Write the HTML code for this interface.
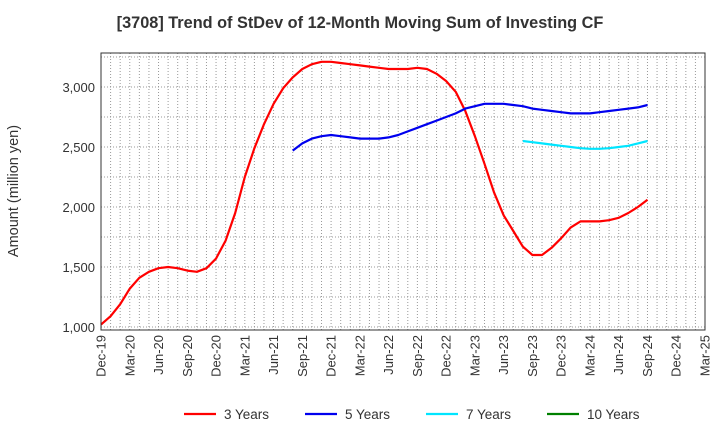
<!DOCTYPE html>
<html><head><meta charset="utf-8"><style>
body{margin:0;background:#fff;font-family:"Liberation Sans",sans-serif}
</style></head><body>
<svg id="c" width="720" height="440" xmlns="http://www.w3.org/2000/svg">
<text x="360" y="28" text-anchor="middle" font-size="16.3" font-weight="bold" fill="#333">[3708]  Trend of StDev of 12-Month Moving Sum of Investing CF</text>
<text transform="translate(18,191) rotate(-90)" text-anchor="middle" font-size="14.5" fill="#333">Amount (million yen)</text>
<g id="grid"></g><g id="series"></g><g id="axes"></g><g id="legend"></g>
</svg>
<script>
const xLabels=["Dec-19","Mar-20","Jun-20","Sep-20","Dec-20","Mar-21","Jun-21","Sep-21","Dec-21","Mar-22","Jun-22","Sep-22","Dec-22","Mar-23","Jun-23","Sep-23","Dec-23","Mar-24","Jun-24","Sep-24","Dec-24","Mar-25"];
const yTicks=[1000,1500,2000,2500,3000];
const s3=[1020,1090,1190,1320,1410,1460,1490,1500,1490,1470,1460,1490,1570,1720,1950,2250,2490,2690,2860,2990,3080,3150,3190,3210,3210,3200,3190,3180,3170,3160,3150,3150,3150,3160,3150,3110,3050,2960,2800,2590,2360,2120,1930,1800,1670,1600,1600,1660,1740,1830,1880,1880,1880,1890,1910,1950,2000,2060];
const s3Start=0;
const s5=[2470,2530,2570,2590,2600,2590,2580,2570,2570,2570,2580,2600,2630,2660,2690,2720,2750,2780,2820,2840,2860,2860,2860,2850,2840,2820,2810,2800,2790,2780,2780,2780,2790,2800,2810,2820,2830,2850];
const s5Start=20;
const s7=[2550,2540,2530,2520,2510,2500,2490,2485,2485,2490,2500,2510,2530,2550];
const s7Start=44;
const s10=[];
const L=101,R=705,T=53,B=330,months=63;
const X=m=>L+(R-L)*m/months;
const Y=v=>327-(v-1000)*0.12;
const NS="http://www.w3.org/2000/svg";
function mk(tag,attrs,parent){const e=document.createElementNS(NS,tag);for(const k in attrs)e.setAttribute(k,attrs[k]);parent.appendChild(e);return e;}
const grid=document.getElementById('grid'),axes=document.getElementById('axes'),ser=document.getElementById('series'),leg=document.getElementById('legend');
for(let m=1;m<months;m++){const g=mk('line',{x1:X(m),x2:X(m),y1:T,y2:B,stroke:'#999','stroke-dasharray':'1,2','stroke-width':1},grid);

}
for(let v=1000;v<=3250;v+=250){const g=mk('line',{x1:L,x2:R,y1:Y(v),y2:Y(v),stroke:'#999','stroke-dasharray':'1,2','stroke-width':1},grid);

}
const fr=mk('rect',{x:L,y:T,width:R-L,height:B-T,fill:'none',stroke:'#333','stroke-width':1},axes);


yTicks.forEach(v=>{const t=mk('text',{x:L-6,y:Y(v)+5,'text-anchor':'end','font-size':13,fill:'#333'},axes);t.textContent=v.toLocaleString('en-US');

});
xLabels.forEach((lb,i)=>{const x=X(i*3);const t=mk('text',{transform:`translate(${x+4.5},${B+5}) rotate(-90)`,'text-anchor':'end','font-size':13,fill:'#333'},axes);t.textContent=lb;

});
function draw(arr,start,color,name){if(!arr.length)return;const p=arr.map((v,i)=>X(start+i).toFixed(1)+','+Y(v).toFixed(1)).join(' ');
const e=mk('polyline',{points:p,fill:'none',stroke:color,'stroke-width':2.2,'stroke-linejoin':'round'},ser);

}
draw(s3,s3Start,'#ff0000','line-3-years');
draw(s5,s5Start,'#0000ee','line-5-years');
draw(s7,s7Start,'#00e5ff','line-7-years');
draw(s10,0,'#008000','line-10-years');
const items=[["3 Years","#ff0000",184],["5 Years","#0000ee",305],["7 Years","#00e5ff",426],["10 Years","#008000",547]];
items.forEach(([lb,c,x])=>{const g=mk('g',{},leg);


mk('line',{x1:x,x2:x+32,y1:414,y2:414,stroke:c,'stroke-width':2.2},g);
const t=mk('text',{x:x+40,y:419,'font-size':13.5,fill:'#333'},g);t.textContent=lb;});
</script>
</body></html>
